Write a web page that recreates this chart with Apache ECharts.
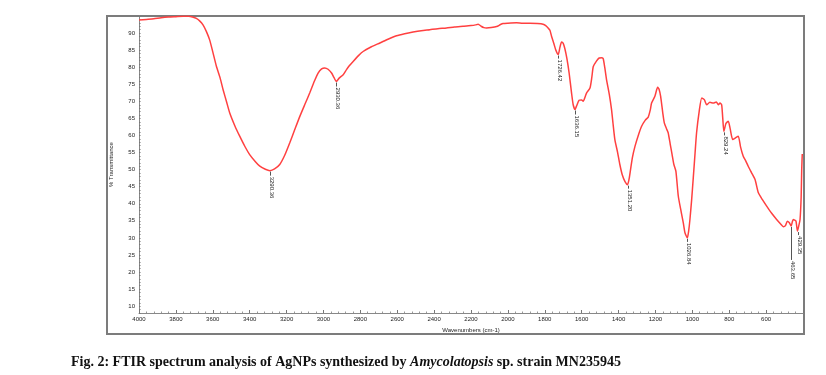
<!DOCTYPE html>
<html>
<head>
<meta charset="utf-8">
<script src="https://cdn.jsdelivr.net/npm/echarts@6/dist/echarts.min.js"></script>
<style>
html,body{margin:0;padding:0;background:#fff;}
#chart{width:826px;height:375px;}
</style>
</head>
<body>
<div id="chart"></div>
<script>
// Wavenumber (cm-1) and %Transmittance
const wavenumbers = [4000,3960,3920,3880,3840,3800,3760,3730,3710,3689,3670,3653,3635,3617,3600,3580,3560,3544,3525,3508,3480,3454,3425,3400,3370,3345,3315,3290,3265,3237,3210,3183,3155,3128,3100,3074,3050,3029,3010,2993,2975,2956,2943,2930,2915,2893,2875,2860,2839,2810,2785,2740,2694,2650,2604,2560,2514,2470,2423,2380,2333,2290,2243,2200,2175,2161,2145,2130,2116,2090,2061,2040,2026,2000,1953,1920,1881,1840,1809,1795,1782,1772,1763,1750,1740,1727,1718,1709,1700,1691,1680,1668,1655,1646,1636,1628,1614,1600,1592,1580,1573,1555,1545,1537,1520,1505,1490,1483,1475,1465,1450,1438,1430,1420,1405,1393,1380,1365,1351,1342,1335,1325,1311,1290,1275,1255,1239,1228,1221,1203,1188,1180,1172,1160,1152,1140,1131,1120,1110,1100,1089,1076,1060,1049,1040,1027,1020,1013,1004,995,985,977,963,949,935,922,905,886,870,859,850,841,835,829,818,805,795,781,766,751,738,724,710,697,680,660,642,620,597,570,543,520,507,495,485,475,464,458,453,445,438,430,423,416,410,407,404];
const transmittance = [93.8,94.0,94.2,94.5,94.7,94.8,94.9,94.9,94.7,94.3,93.5,92.4,90.5,88.0,84.5,80.2,76.8,73.4,69.8,66.6,62.8,59.8,56.7,54.4,52.4,51.0,50.1,49.7,50.2,51.5,54.2,57.8,61.8,65.6,69.2,72.5,75.8,78.3,79.5,79.8,79.4,78.3,77.0,75.8,76.8,77.8,79.3,80.4,81.7,83.4,84.6,86.0,87.1,88.2,89.2,89.8,90.3,90.7,91.0,91.3,91.5,91.8,92.0,92.2,92.4,92.6,92.0,91.6,91.5,91.6,91.9,92.5,92.8,92.9,93.0,92.9,92.9,92.8,92.6,92.2,91.5,90.8,89.0,86.8,85.0,83.7,85.8,87.4,87.0,85.4,82.5,78.3,72.5,69.0,67.6,68.6,70.3,70.4,70.0,71.5,72.5,73.9,77.0,80.2,81.8,82.7,82.8,82.5,80.0,76.3,72.0,67.6,63.5,58.8,55.0,51.5,48.5,46.5,45.6,47.5,50.0,53.5,56.8,60.5,62.7,64.5,65.4,67.5,69.5,71.5,74.1,73.5,71.5,66.5,63.7,62.0,60.8,57.5,54.5,51.5,49.5,42.2,37.5,34.4,31.5,30.0,32.0,35.4,41.0,47.5,55.0,60.8,67.0,71.0,70.5,69.0,69.7,69.5,69.8,69.0,69.5,69.0,65.0,61.2,63.5,64.2,62.0,58.8,59.3,59.8,56.5,53.9,52.5,51.0,49.2,47.1,43.2,41.2,39.3,37.2,35.4,34.0,33.3,33.6,34.9,34.5,33.5,34.7,35.4,35.2,34.9,32.0,33.5,35.4,42.0,50.0,54.6];

// Peak annotations
const peakLabels = ['3290.36','2930.36','1726.42','1636.15','1351.20','1026.84','829.24','463.65','429.35'];
const peakValues = [49.7,75.8,83.7,67.6,45.6,30.0,61.2,33.5,32.0];
const peakLeaderPx = [4,4,3,4,3,3,3,33,3];

const yTickMin = 10, yTickMax = 90, yTickStep = 5;
const captionMain = 'Fig. 2: FTIR spectrum analysis of AgNPs synthesized by ';
const captionItalic = 'Amycolatopsis';
const captionEnd = ' sp. strain MN235945';

const spectrum = wavenumbers.map((w, i) => [w, transmittance[i]]);
const peaks = peakLabels.map((t, i) => [parseFloat(t), peakValues[i], i]);

const chart = echarts.init(document.getElementById('chart'), null, {renderer: 'canvas'});
const axisFont = 'Liberation Sans, Arial, sans-serif';
const serif = 'Liberation Serif, Times New Roman, serif';

chart.setOption({
  animation: false,
  backgroundColor: '#ffffff',
  title: {
    left: 71, top: 355, padding: 0,
    text: '{a|' + captionMain + '}{b|' + captionItalic + '}{a|' + captionEnd + '}',
    textStyle: {
      rich: {
        a: {fontFamily: serif, fontWeight: 'bold', fontSize: 14, color: '#111'},
        b: {fontFamily: serif, fontWeight: 'bold', fontStyle: 'italic', fontSize: 14, color: '#111'}
      }
    }
  },
  graphic: [{
    type: 'rect', z: -1, silent: true,
    shape: {x: 107, y: 16, width: 697, height: 318},
    style: {fill: 'none', stroke: '#7c7c7c', lineWidth: 2}
  }],
  grid: {left: 139, right: 23, top: 16, bottom: 62, containLabel: false},
  xAxis: {
    type: 'value', inverse: true, min: 400, max: 4000, interval: 200,
    name: 'Wavenumbers (cm-1)', nameLocation: 'middle', nameGap: 12,
    nameTextStyle: {fontFamily: axisFont, fontSize: 6, color: '#222'},
    axisLine: {lineStyle: {color: '#888', width: 1}},
    axisTick: {inside: true, length: 3, lineStyle: {color: '#777'}},
    minorTick: {show: true, splitNumber: 5, length: 1.5, lineStyle: {color: '#999'}},
    splitLine: {show: false},
    axisLabel: {
      fontFamily: axisFont, fontSize: 6, color: '#222', margin: 3,
      formatter: v => (v === 400 ? '' : String(v))
    }
  },
  yAxis: {
    type: 'value', min: 8, max: 95, interval: 1,
    name: '% Transmittance', nameLocation: 'middle', nameGap: 25,
    nameTextStyle: {fontFamily: axisFont, fontSize: 6, color: '#222'},
    axisLine: {show: true, lineStyle: {color: '#888', width: 1}},
    axisTick: {show: true, inside: true, length: 1.5, lineStyle: {color: '#777'}},
    splitLine: {show: false},
    axisLabel: {
      interval: 0, fontFamily: axisFont, fontSize: 6, color: '#222', margin: 4,
      formatter: v => (v >= yTickMin && v <= yTickMax && v % yTickStep === 0 ? String(v) : '')
    }
  },
  series: [{
    type: 'line', data: spectrum, showSymbol: false, smooth: 0.2,
    lineStyle: {color: '#ff4040', width: 1.5}, z: 3
  }, {
    type: 'custom', data: peaks, z: 4,
    renderItem: function (params, api) {
      const p = api.coord([api.value(0), api.value(1)]);
      const idx = api.value(2);
      const lead = peakLeaderPx[idx];
      const x = Math.round(p[0]) + 0.5;
      const y0 = p[1] + 1;
      return {
        type: 'group',
        children: [{
          type: 'line',
          shape: {x1: x, y1: y0, x2: x, y2: y0 + lead},
          style: {stroke: '#555', lineWidth: 1}
        }, {
          type: 'text',
          x: x + 1, y: y0 + lead + 1,
          rotation: -Math.PI / 2,
          style: {
            text: peakLabels[idx], fill: '#222',
            font: '6px Liberation Sans, Arial, sans-serif',
            align: 'left', verticalAlign: 'middle'
          }
        }]
      };
    }
  }]
});
</script>
</body>
</html>
